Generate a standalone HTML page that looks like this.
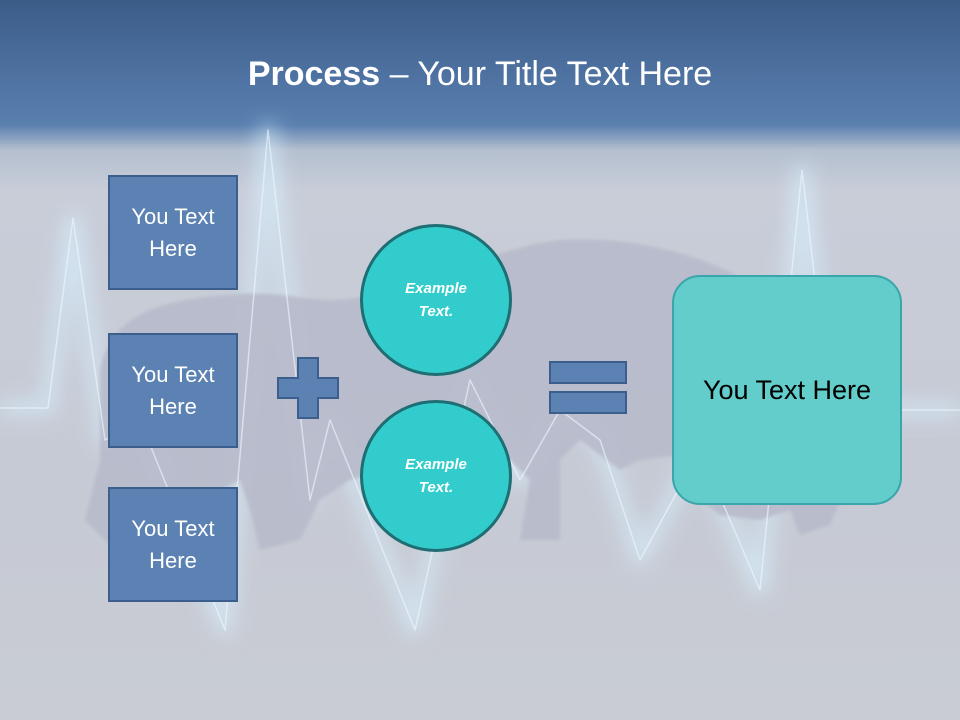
<!DOCTYPE html>
<html><head><meta charset="utf-8"><style>
body{margin:0;width:960px;height:720px;overflow:hidden;font-family:"Liberation Sans",sans-serif}
.bg{position:absolute;left:0;top:0;width:960px;height:720px;background:linear-gradient(#3c5c88 0px,#4a6d9c 60px,#5a80b0 125px,#b4bfcf 150px,#c8cdd8 190px,#c6cad4 500px,#c9ccd3 720px)}
.box{position:absolute;left:108px;width:126px;height:111px;background:#5b82b2;border:2px solid #3c5e8c;color:#fff;font-size:22px;display:flex;align-items:center;justify-content:center;text-align:center;line-height:32px}
.circ{position:absolute;left:360px;width:146px;height:146px;border-radius:50%;background:#33cccc;border:3px solid #1e6e74;color:#fff;font-style:italic;font-weight:bold;font-size:15px;display:flex;align-items:center;justify-content:center;text-align:center;line-height:23px}
</style></head><body>
<div class="bg"></div>
<svg width="960" height="720" style="position:absolute;left:0;top:0">
<defs><filter id="g" x="-20%" y="-20%" width="140%" height="140%"><feGaussianBlur stdDeviation="10"/></filter><filter id="b"><feGaussianBlur stdDeviation="1.5"/></filter></defs>
<g fill="none" stroke-linejoin="round">
<polyline filter="url(#g)" stroke-width="14" stroke="#d8f0ff" opacity="0.7" points="0,408 48,408 73,218 105,440 140,420 225,630 268,130 310,500 330,420 415,630 470,380 520,480 560,410 600,440 640,560 700,450 760,590 802,170 830,410 960,410"/>
</g>
<g fill="#b8bbcb" opacity="0.9" filter="url(#b)">
<path d="M100,370 C110,320 150,300 230,295 C280,290 300,300 330,300 C400,300 480,250 560,240 C640,235 720,260 760,290 L850,330 C880,350 870,380 860,420 C860,470 840,500 830,525 L800,535 L790,510 L760,520 L720,515 L700,500 L680,455 L640,460 L620,470 L580,440 L560,460 L560,540 L520,540 L530,480 L510,460 L480,470 L460,520 L420,540 L400,500 L380,470 L350,480 L320,500 L300,540 L260,550 L250,510 L240,480 L200,500 L180,540 L110,545 L85,520 L100,460 Z"/>
</g>
<polyline fill="none" stroke="#eef9ff" stroke-width="1.5" opacity="0.6" stroke-linejoin="round" points="0,408 48,408 73,218 105,440 140,420 225,630 268,130 310,500 330,420 415,630 470,380 520,480 560,410 600,440 640,560 700,450 760,590 802,170 830,410 960,410"/>
<path d="M298,358h20v20h20v20h-20v20h-20v-20h-20v-20h20z" fill="#5b82b2" stroke="#3c5e8c" stroke-width="2"/>
<rect x="550" y="362" width="76" height="21" fill="#5b82b2" stroke="#3c5e8c" stroke-width="2"/>
<rect x="550" y="392" width="76" height="21" fill="#5b82b2" stroke="#3c5e8c" stroke-width="2"/>
</svg>
<div style="position:absolute;left:0;top:55px;width:960px;text-align:center;color:#fff;font-size:34px;font-family:'Liberation Sans',sans-serif"><b>Process</b> – Your Title Text Here</div>
<div class="box" style="top:175px">You Text<br>Here</div>
<div class="box" style="top:333px">You Text<br>Here</div>
<div class="box" style="top:487px">You Text<br>Here</div>
<div class="circ" style="top:224px">Example<br>Text.</div>
<div class="circ" style="top:400px">Example<br>Text.</div>
<div style="position:absolute;left:672px;top:275px;width:226px;height:226px;border-radius:28px;background:#62cdca;border:2px solid #3aa5aa;display:flex;align-items:center;justify-content:center;font-size:27px;color:#000">You Text Here</div>
</body></html>
